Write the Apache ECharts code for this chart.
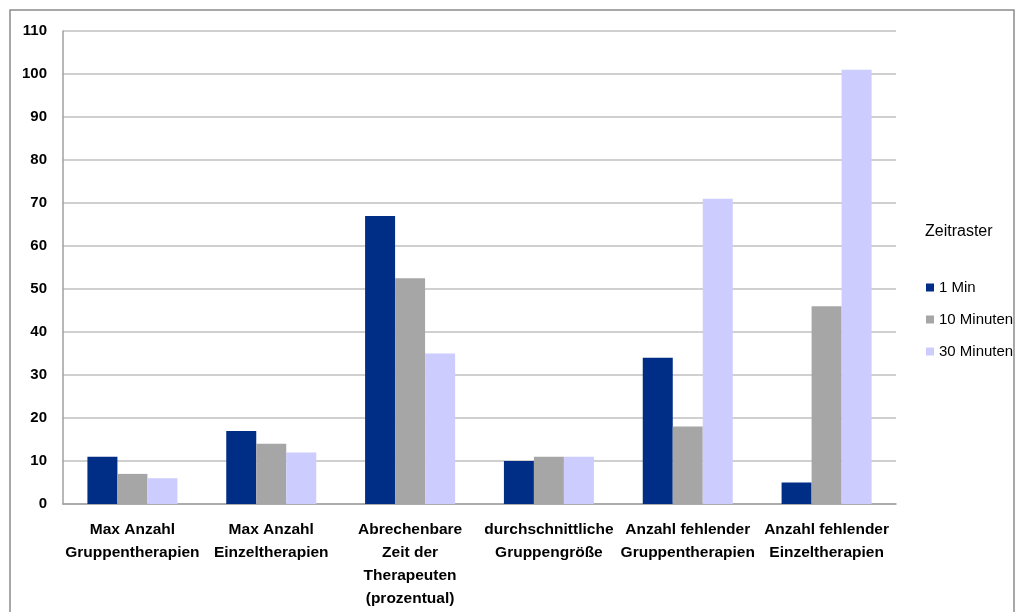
<!DOCTYPE html>
<html>
<head>
<meta charset="utf-8">
<script src="https://cdn.jsdelivr.net/npm/echarts@6/dist/echarts.min.js"></script>
<style>
    html, body { margin: 0; padding: 0; background: #fff; }
    #chart { width: 1018px; height: 612px; }
</style>
</head>
<body>
<div id="chart"></div>
<script>
// Kategorien
const categories = [
    'Max Anzahl\nGruppentherapien',
    'Max Anzahl\nEinzeltherapien',
    'Abrechenbare\nZeit der\nTherapeuten\n(prozentual)',
    'durchschnittliche\nGruppengröße',
    'Anzahl fehlender\nGruppentherapien',
    'Anzahl fehlender\nEinzeltherapien'
]
// Werte je Zeitraster
const min1 = [11, 17, 67, 10, 34, 5]
const min10 = [7, 14, 52.5, 11, 18, 46]
const min30 = [6, 12, 35, 11, 71, 101]
const seriesNames = ['1 Min', '10 Minuten', '30 Minuten']
const colors = ['#002d85', '#a6a6a6', '#ccccff']

const fontFamily = '"Liberation Sans", Arial, sans-serif'

let myChart = echarts.init(document.getElementById('chart'))

let option = {
    animation: false,
    graphic: [
        {
            type: 'rect',
            shape: { x: 10, y: 10, width: 1004, height: 610 },
            style: { fill: 'none', stroke: '#8c8c8c', lineWidth: 1.5 }
        },
        {
            type: 'text',
            left: 925,
            top: 224,
            style: { text: 'Zeitraster', fill: '#000', font: '16px ' + fontFamily }
        }
    ],
    legend: {
        orient: 'vertical',
        left: 921,
        top: 275,
        itemWidth: 8,
        itemHeight: 8,
        itemGap: 17,
        icon: 'rect',
        textStyle: { fontSize: 15, color: '#000', fontFamily: fontFamily },
        data: seriesNames
    },
    grid: {
        left: 63,
        top: 31,
        width: 833,
        height: 473
    },
    xAxis: {
        type: 'category',
        data: categories,
        axisLine: { lineStyle: { color: '#a0a0a0', width: 1.5 } },
        axisTick: { show: false },
        axisLabel: {
            interval: 0,
            margin: 14,
            color: '#000',
            fontWeight: 'bold',
            fontSize: 15.5,
            lineHeight: 23,
            fontFamily: fontFamily
        }
    },
    yAxis: {
        type: 'value',
        min: 0,
        max: 110,
        interval: 10,
        axisLine: { show: true, lineStyle: { color: '#a0a0a0', width: 1.5 } },
        axisTick: { show: false },
        splitLine: { lineStyle: { color: '#c0c0c0', width: 1.5 } },
        axisLabel: {
            margin: 16,
            color: '#000',
            fontWeight: 'bold',
            fontSize: 15,
            fontFamily: fontFamily
        }
    },
    series: [
        { name: seriesNames[0], type: 'bar', data: min1, color: colors[0], barWidth: 30, barGap: '0%' },
        { name: seriesNames[1], type: 'bar', data: min10, color: colors[1], barWidth: 30, barGap: '0%' },
        { name: seriesNames[2], type: 'bar', data: min30, color: colors[2], barWidth: 30, barGap: '0%' }
    ]
}

myChart.setOption(option)
</script>
</body>
</html>
